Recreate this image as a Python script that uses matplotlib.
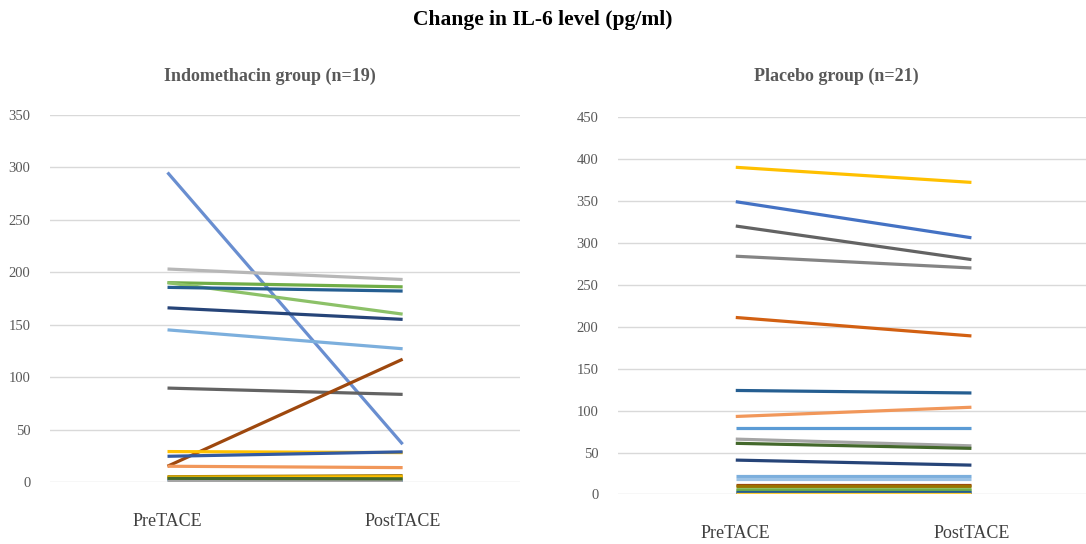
import matplotlib.pyplot as plt

plt.rcParams["font.family"] = ["Liberation Serif", "DejaVu Serif"]

# Categories
timepoints = ["PreTACE", "PostTACE"]

# Indomethacin group (n=19): IL-6 before / after TACE
indo_pre = [295, 203, 190, 190, 185.5, 166, 145, 89.5, 15, 29, 24.5, 15, 4, 5, 3, 2, 4.5, 1, 3.5]
indo_post = [36, 193, 186, 160, 182, 155, 127, 83.5, 117, 28, 28.7, 13.7, 4.5, 6, 2, 1, 5, 1.5, 3]
indo_colors = ["#698ED0", "#B7B7B7", "#70AD47", "#8CC168", "#255E91", "#264478", "#7CAFDD",
               "#636363", "#9E480E", "#FFC000", "#335AA1", "#F1975A", "#FFCD33", "#997300",
               "#4472C4", "#5B9BD5", "#FFC000", "#A5A5A5", "#43682B"]

# Placebo group (n=21)
plac_pre = [390, 349, 320, 284, 211, 124, 93, 79, 66, 61, 41, 22, 19, 11, 10, 7, 5, 2, 1, 3, 0.5]
plac_post = [372, 306, 280, 270, 189, 121, 104, 79, 58, 55, 35, 22, 19, 11, 10, 7, 5, 2, 1, 3, 0.5]
plac_colors = ["#FFC000", "#4472C4", "#636363", "#848484", "#D26012", "#255E91", "#F1975A",
               "#5B9BD5", "#A5A5A5", "#43682B", "#264478", "#7CAFDD", "#9DC3E6", "#9E480E",
               "#997300", "#8CC168", "#70AD47", "#335AA1", "#ED7D31", "#255E91", "#FFCD33"]

fig = plt.figure(figsize=(10.86, 5.44), dpi=100)
fig.text(0.5, 0.963, "Change in IL-6 level (pg/ml)", ha="center", va="center",
         fontsize=15.5, fontweight="bold", color="black")


def draw_panel(ax, pre, post, colors, ymax):
    for p, q, c in zip(pre, post, colors):
        ax.plot([0, 1], [p, q], color=c, lw=2.3, solid_capstyle="butt")
    ax.set_xlim(-0.5, 1.5)
    ax.set_ylim(0, ymax)
    ax.set_yticks(range(0, ymax + 1, 50))
    ax.set_xticks([0, 1])
    ax.set_xticklabels(timepoints, fontsize=13, color="#404040")
    ax.tick_params(axis="x", length=0, pad=22)
    ax.tick_params(axis="y", length=0, labelsize=10.5, labelcolor="#595959", pad=14)
    ax.grid(axis="y", color="#D9D9D9", lw=1)
    ax.set_axisbelow(True)
    for s in ax.spines.values():
        s.set_visible(False)


ax1 = fig.add_axes([0.046, 0.114, 0.433, 0.675])
draw_panel(ax1, indo_pre, indo_post, indo_colors, 350)

ax2 = fig.add_axes([0.569, 0.091, 0.434, 0.694])
draw_panel(ax2, plac_pre, plac_post, plac_colors, 450)

# panel titles
fig.text(270 / 1086, 1 - 76 / 544, "Indomethacin group (n=19)", ha="center", va="center",
         fontsize=13, fontweight="bold", color="#595959")
fig.text(836 / 1086, 1 - 76 / 544, "Placebo group (n=21)", ha="center", va="center",
         fontsize=13, fontweight="bold", color="#595959")

fig.savefig("out.png", dpi=100)
